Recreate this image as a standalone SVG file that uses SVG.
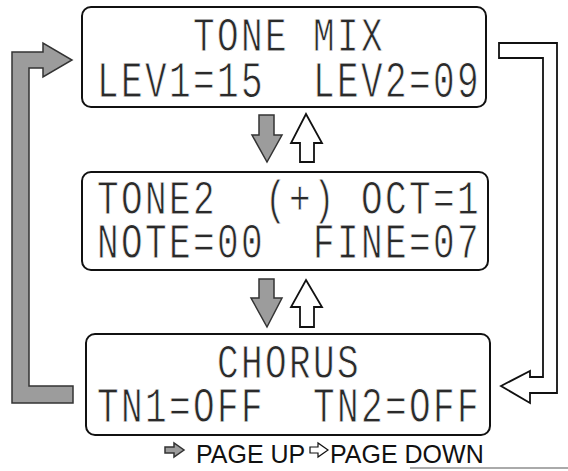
<svg xmlns="http://www.w3.org/2000/svg" width="568" height="471" viewBox="0 0 568 471">
<style>
.box{fill:#fff;stroke:#111;stroke-width:2}
.lcd{font-family:"Liberation Mono","DejaVu Sans Mono",monospace;font-size:36px;letter-spacing:2.4px;fill:#2a2a2a;stroke:#fff;stroke-width:0.6;paint-order:normal}
.gray{fill:#9c9c9c;stroke:#333;stroke-width:1.5;stroke-linejoin:miter}
.white{fill:#fff;stroke:#111;stroke-width:1.8;stroke-linejoin:miter}
.legend{font-family:"Liberation Sans",Arial,sans-serif;font-size:25px;fill:#111}
</style>
<rect width="568" height="471" fill="#fff"/>
<g id="node-tone-mix">
<rect class="box" x="82" y="7" width="404" height="100" rx="9"/>
<text class="lcd" xml:space="preserve" transform="translate(193,51) scale(1,1.35)">TONE MIX</text>
<text class="lcd" xml:space="preserve" transform="translate(97,97) scale(1,1.42)">LEV1=15  LEV2=09</text>
</g>
<g id="node-tone2">
<rect class="box" x="82" y="172" width="406" height="98" rx="9"/>
<text class="lcd" xml:space="preserve" transform="translate(97,214) scale(1,1.35)">TONE2  (+) OCT=1</text>
<text class="lcd" xml:space="preserve" transform="translate(97,258) scale(1,1.38)">NOTE=00  FINE=07</text>
</g>
<g id="node-chorus">
<rect class="box" x="86" y="334" width="404" height="101" rx="9"/>
<text class="lcd" xml:space="preserve" transform="translate(217,378) scale(1,1.35)">CHORUS</text>
<text class="lcd" xml:space="preserve" transform="translate(97,422) scale(1,1.4)">TN1=OFF  TN2=OFF</text>
</g>
<g id="connectors">
<polygon class="gray" points="12,52 43,52 43,43 72,60 43,77 43,68 29,68 29,386 73,386 73,403 12,403"/>
<polygon class="white" points="499,43 557,43 557,393 530,393 530,403 501,386 530,371 530,377 543,377 543,58 499,58"/>
<polygon class="gray" points="259,115 274,115 274,135 282,135 267,162 252,135 259,135"/>
<polygon class="white" points="306,114 322,143 314,143 314,162 300,162 300,143 291,143"/>
<polygon class="gray" points="259,279 274,279 274,298 282,298 267,327 251,298 259,298"/>
<polygon class="white" points="306,280 322,307 314,307 314,327 300,327 300,307 291,307"/>
</g>
<g id="legend">
<polygon class="gray" points="165,447 174,447 174,443 184,450 174,457 174,453 165,453"/>
<text class="legend" x="196" y="463">PAGE UP</text>
<polygon class="white" points="310,447 318,447 318,443 328,450 318,457 318,453 310,453" style="stroke-width:1.2"/>
<text class="legend" x="330" y="463">PAGE DOWN</text>
<line x1="410" y1="468" x2="568" y2="468" stroke="#aaa" stroke-width="2"/>
</g>
</svg>
